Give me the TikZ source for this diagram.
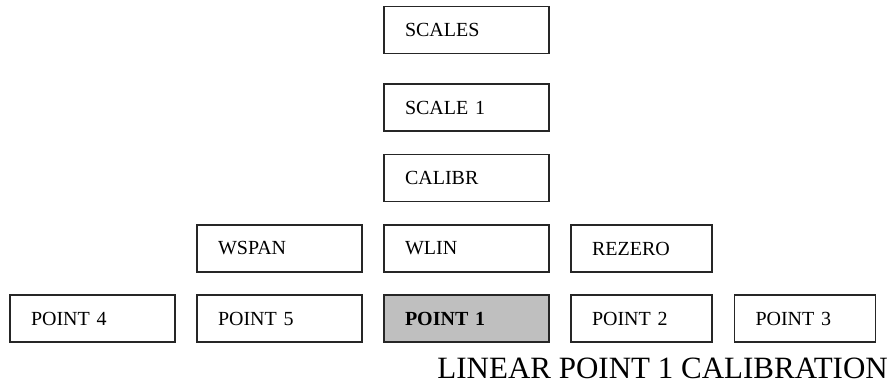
\documentclass[tikz,border=0pt]{standalone}
\usepackage{fontspec}
\setmainfont{Liberation Serif}
\begin{document}
\begin{tikzpicture}[x=1pt,y=-1pt,
  box/.style={draw=black!85,line width=1.2pt,minimum height=47pt,inner xsep=21pt,inner ysep=0pt,
    align=left,font=\fontsize{20}{22}\selectfont,text width=123pt},
  narrow/.style={text width=99pt},
  hl/.style={fill=black!25,font=\fontsize{20}{22}\selectfont\bfseries}]
\useasboundingbox (0,0) rectangle (890,385);
\node[box] (scales) at (466.5,30) {SCALES};
\node[box] (scale1) at (466.5,107.5) {SCALE 1};
\node[box] (calibr) at (466.5,178) {CALIBR};
\node[box] (wspan) at (279.5,248.5) {WSPAN};
\node[box] (wlin) at (466.5,248.5) {WLIN};
\node[box,narrow] (rezero) at (641.5,248.5) {REZERO};
\node[box] (p4) at (92.5,318.5) {POINT 4};
\node[box] (p5) at (279.5,318.5) {POINT 5};
\node[box,hl] (p1) at (466.5,318.5) {POINT 1};
\node[box,narrow] (p2) at (641.5,318.5) {POINT 2};
\node[box,narrow] (p3) at (805,318.5) {POINT 3};
\node[anchor=base east,inner sep=0pt,font=\fontsize{31}{33}\selectfont] (cap) at (888,378) {LINEAR POINT 1 CALIBRATION};
\end{tikzpicture}
\end{document}
